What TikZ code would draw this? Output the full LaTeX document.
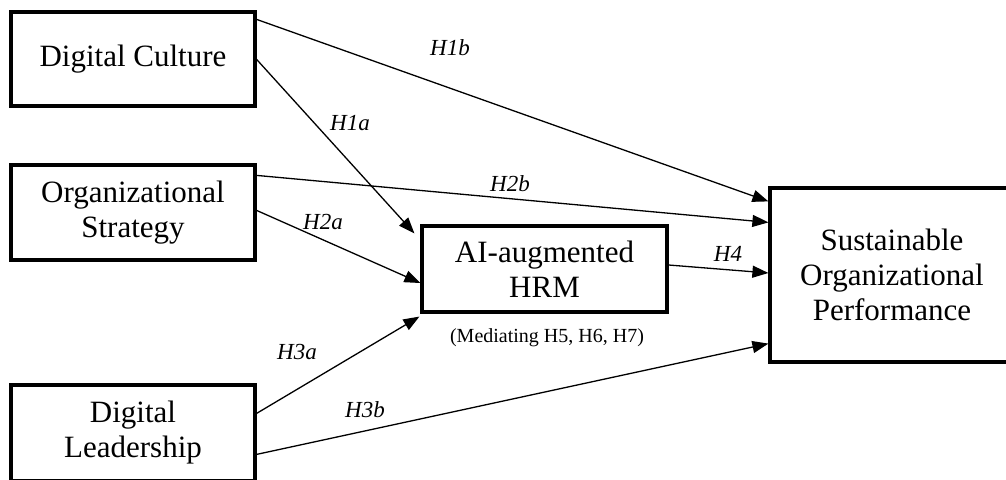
\documentclass[tikz,border=0pt]{standalone}
\usepackage{fontspec}
\setmainfont{Liberation Serif}
\usetikzlibrary{arrows.meta,calc}
\begin{document}
\begin{tikzpicture}[x=1pt,y=-1pt,
  box/.style={draw,line width=3.2pt,inner sep=0pt,align=center,font=\fontsize{31}{35}\selectfont},
  link/.style={line width=1.3pt,-{Triangle[length=16pt,width=12pt]}},
  hyp/.style={font=\fontsize{23}{25}\selectfont\itshape,inner sep=0pt}]
\useasboundingbox (0,0) rectangle (1006,479);
\clip (0,0) rectangle (1006,479);
% boxes
\node[box,minimum width=244pt,minimum height=94pt] (dc) at (133,59) {Digital Culture};
\node[box,minimum width=244pt,minimum height=95pt] (os) at (133,212.5) {Organizational\\Strategy};
\node[box,minimum width=244pt,minimum height=96pt] (dl) at (133,433) {Digital\\Leadership};
\node[box,minimum width=245pt,minimum height=86pt] (hrm) at (544.5,269) {AI-augmented\\HRM};
\node[box,minimum width=244pt,minimum height=174pt] (sop) at (892,275) {Sustainable\\Organizational\\Performance};
\node[font=\fontsize{20}{22}\selectfont,inner sep=0pt] (med) at (547,338) {(Mediating H5, H6, H7)};
% connectors
\draw[link] ($(dc.north east)+(0,9)$) -- ($(sop.north west)+(0,15)$);
\draw[link] ($(dc.north east)+(0,49)$) -- ($(hrm.north west)+(-6,9)$);
\draw[link] ($(os.north east)+(0,12)$) -- ($(sop.north west)+(0,36)$);
\draw[link] ($(os.north east)+(0,47)$) -- ($(hrm.west)+(0,14)$);
\draw[link] ($(hrm.east)+(0,-4)$) -- ($(sop.west)+(0,-2)$);
\draw[link] ($(dl.north east)+(0,30)$) -- ($(hrm.south west)+(-1,3)$);
\draw[link] ($(dl.north east)+(0,71)$) -- ($(sop.south west)+(0,-20)$);
% labels
\node[hyp] (h1b) at (450,48) {H1b};
\node[hyp] (h1a) at (350,123) {H1a};
\node[hyp] (h2b) at (510,184) {H2b};
\node[hyp] (h2a) at (323,222) {H2a};
\node[hyp] (h4) at (728,254) {H4};
\node[hyp] (h3a) at (297,352) {H3a};
\node[hyp] (h3b) at (365,410) {H3b};
\end{tikzpicture}
\end{document}
